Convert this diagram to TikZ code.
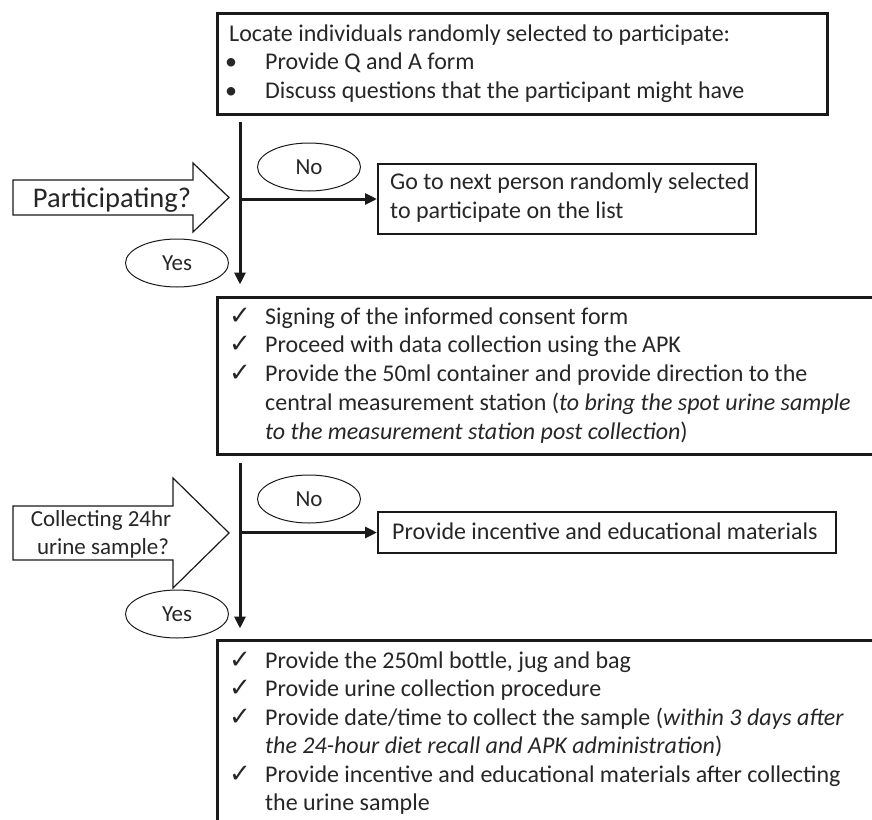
\documentclass[tikz,border=0pt]{standalone}
\usepackage{fontspec}
\setmainfont{Carlito}
\newfontfamily\symfont{DejaVu Sans}
\usetikzlibrary{shapes.geometric,arrows.meta}
\definecolor{ink}{HTML}{262626}
\definecolor{linec}{HTML}{1A1A1A}
\tikzset{
  txt/.style={anchor=base west, inner sep=0pt, text=ink, font=\fontsize{24}{26}\selectfont},
  midtxt/.style={anchor=base, inner sep=0pt, text=ink, font=\fontsize{23}{26}\selectfont},
  bigq/.style={anchor=base, inner sep=0pt, text=ink, font=\fontsize{28.5}{30}\selectfont},
  chk/.style={anchor=base west, inner sep=0pt, text=ink, font=\symfont\fontsize{26}{28}\selectfont},
  bul/.style={anchor=base, inner sep=0pt, text=ink, font=\fontsize{24}{26}\selectfont},
  bigbox/.style={draw=linec, line width=3pt, inner sep=0pt, rectangle},
  smallbox/.style={draw=linec, line width=2pt, inner sep=0pt, rectangle},
  oval/.style={ellipse, draw=linec, line width=1pt, inner sep=0pt, minimum width=103pt, minimum height=48pt, text=ink, font=\fontsize{23}{25}\selectfont},
  flow/.style={draw=linec, line width=3pt, -{Triangle[length=12pt,width=11pt]}},
  blockarrow/.style={draw=linec, line width=1.2pt, fill=white}
}
\begin{document}
\begin{tikzpicture}[x=1pt,y=-1pt]
\useasboundingbox (0,0) rectangle (872,819);
\clip (0,0) rectangle (872,819);

% ---------- box 1
\node[bigbox, minimum width=610pt, minimum height=101pt] (b1) at (522,63.5) {};
\node[txt] (b1l1) at (229,41) {Locate individuals randomly selected to participate:};
\node[bul] (b1b2) at (231,69.5) {•};
\node[txt] (b1l2) at (265,69.5) {Provide Q and A form};
\node[bul] (b1b3) at (231,98) {•};
\node[txt] (b1l3) at (265,98) {Discuss questions that the participant might have};

% ---------- decision 1
\draw[blockarrow] (13,180) -- (193,180) -- (193,163) -- (229,197.5) -- (193,232) -- (193,215) -- (13,215) -- cycle;
\node[bigq] (q1) at (112,207) {Participating?};
\node[oval] (no1) at (309,167) {No};
\node[oval] (yes1) at (177,263) {Yes};
\node[smallbox, minimum width=378pt, minimum height=70pt] (go) at (567,199) {};
\node[txt] (gol1) at (390,189) {Go to next person randomly selected};
\node[txt] (gol2) at (390,218) {to participate on the list};

% ---------- box 2
\node[bigbox, minimum width=700pt, minimum height=157pt] (b2) at (567,375.5) {};
\node[chk] (c21) at (229,324) {✓};
\node[txt] (b2l1) at (265,324) {Signing of the informed consent form};
\node[chk] (c22) at (229,352.75) {✓};
\node[txt] (b2l2) at (265,352.75) {Proceed with data collection using the APK};
\node[chk] (c23) at (229,381.5) {✓};
\node[txt] (b2l3) at (265,381.5) {Provide the 50ml container and provide direction to the};
\node[txt] (b2l4) at (265,410.25) {central measurement station (\textit{to bring the spot urine sample}};
\node[txt] (b2l5) at (265,439) {\textit{to the measurement station post collection})};

% ---------- decision 2
\draw[blockarrow] (13,506) -- (173,506) -- (173,478) -- (229,533) -- (173,588) -- (173,560) -- (13,560) -- cycle;
\node[midtxt] (q2a) at (101,526) {Collecting 24hr};
\node[midtxt] (q2b) at (103,554) {urine sample?};
\node[oval] (no2) at (309,499) {No};
\node[oval] (yes2) at (177,614) {Yes};
\node[smallbox, minimum width=458pt, minimum height=41pt] (inc) at (607,532.5) {};
\node[txt] (incl) at (392,539) {Provide incentive and educational materials};

% ---------- box 3
\node[bigbox, minimum width=700pt, minimum height=250pt] (b3) at (567,765) {};
\node[chk] (c31) at (229,668) {✓};
\node[txt] (b3l1) at (265,668) {Provide the 250ml bottle, jug and bag};
\node[chk] (c32) at (229,696.5) {✓};
\node[txt] (b3l2) at (265,696.5) {Provide urine collection procedure};
\node[chk] (c33) at (229,725) {✓};
\node[txt] (b3l3) at (265,725) {Provide date/time to collect the sample (\textit{within 3 days after}};
\node[txt] (b3l4) at (265,753.5) {\textit{the 24-hour diet recall and APK administration})};
\node[chk] (c35) at (229,782) {✓};
\node[txt] (b3l5) at (265,782) {Provide incentive and educational materials after collecting};
\node[txt] (b3l6) at (265,810.5) {the urine sample};

% ---------- connectors
\coordinate (s1) at (240,122);
\coordinate (s2) at (240,463);
\draw[flow, shorten >=11pt] (s1) -- (s1 |- b2.north);
\draw[flow] (s1 |- go.west) -- (go.west);
\draw[flow, shorten >=10pt] (s2) -- (s2 |- b3.north);
\draw[flow] (s2 |- inc.west) -- (inc.west);
\end{tikzpicture}
\end{document}
